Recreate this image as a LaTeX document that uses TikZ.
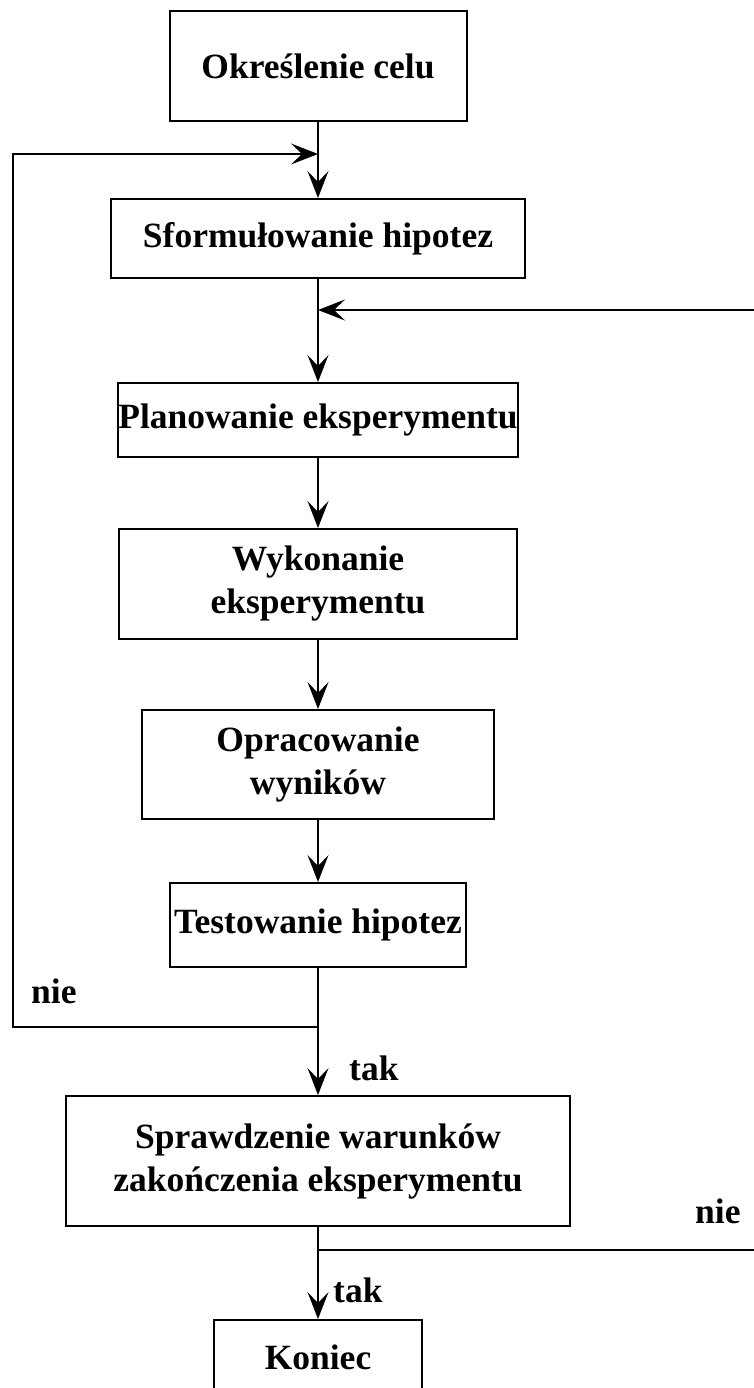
\documentclass[tikz,border=0pt]{standalone}
\usepackage{fontspec}
\setmainfont{Liberation Serif}
\usetikzlibrary{arrows.meta}
\tikzset{
  krok/.style={
    draw, line width=2pt, inner sep=0pt, align=center,
    font=\bfseries\fontsize{35.5}{43}\selectfont,
  },
  etykieta/.style={
    inner sep=0pt, anchor=base west,
    font=\bfseries\fontsize{35.5}{43}\selectfont,
  }
}

\begin{document}
\begin{tikzpicture}[x=1pt, y=-1pt]
                \clip (0,0) rectangle (754,1388);
                \begin{scope}[every node/.style={krok}]
                    \node[minimum width=297pt, minimum height=110pt] (cel) at (318,66) {Określenie celu};
                    \node[minimum width=414pt, minimum height=79pt] (hip) at (318,238.5) {Sformułowanie hipotez};
                    \node[minimum width=398pt, minimum height=74pt] (plan) at (318,420) {Planowanie eksperymentu};
                    \node[minimum width=398pt, minimum height=110pt] (wyk) at (318,584) {Wykonanie\\eksperymentu};
                    \node[minimum width=352pt, minimum height=109pt] (opr) at (318,764.5) {Opracowanie\\wyników};
                    \node[minimum width=296pt, minimum height=84pt] (test) at (318,925) {Testowanie hipotez};
                    \node[minimum width=504pt, minimum height=130pt] (spr) at (318,1161) {Sprawdzenie warunków\\zakończenia eksperymentu};
                    \node[minimum width=208pt, minimum height=74pt] (kon) at (318,1357) {Koniec};
                \end{scope}
                \node[etykieta] (nie1) at (31,1003) {nie};
                \node[etykieta] (tak1) at (349,1080) {tak};
                \node[etykieta] (nie2) at (695,1223) {nie};
                \node[etykieta] (tak2) at (333,1302) {tak};
                % rozgalezienia i naroza petli
                \coordinate (j1) at (318,154);
                \coordinate (j2) at (318,310);
                \coordinate (j3) at (318,1027);
                \coordinate (j4) at (318,1250);
                \coordinate (lewyDol) at (13,1027);
                \coordinate (lewyGora) at (13,154);
                \coordinate (prawyDol) at (770,1250);
                \coordinate (prawyGora) at (770,310);
                \begin{scope}[>={Stealth[length=27pt,width=21pt,inset=11pt]}, every edge/.style={draw,line width=2pt}]
                    \path [->] (cel) edge (hip);
                    \path [->] (hip) edge (plan);
                    \path [->] (plan) edge (wyk);
                    \path [->] (wyk) edge (opr);
                    \path [->] (opr) edge (test);
                    \path [->] (test) edge (spr);
                    \path [->] (spr) edge (kon);
                    \draw [line width=2pt,->] (j3) -- (lewyDol) -- (lewyGora) -- (j1);
                    \draw [line width=2pt,->] (j4) -- (prawyDol) -- (prawyGora) -- (j2);
                \end{scope}
            \end{tikzpicture}
\end{document}
